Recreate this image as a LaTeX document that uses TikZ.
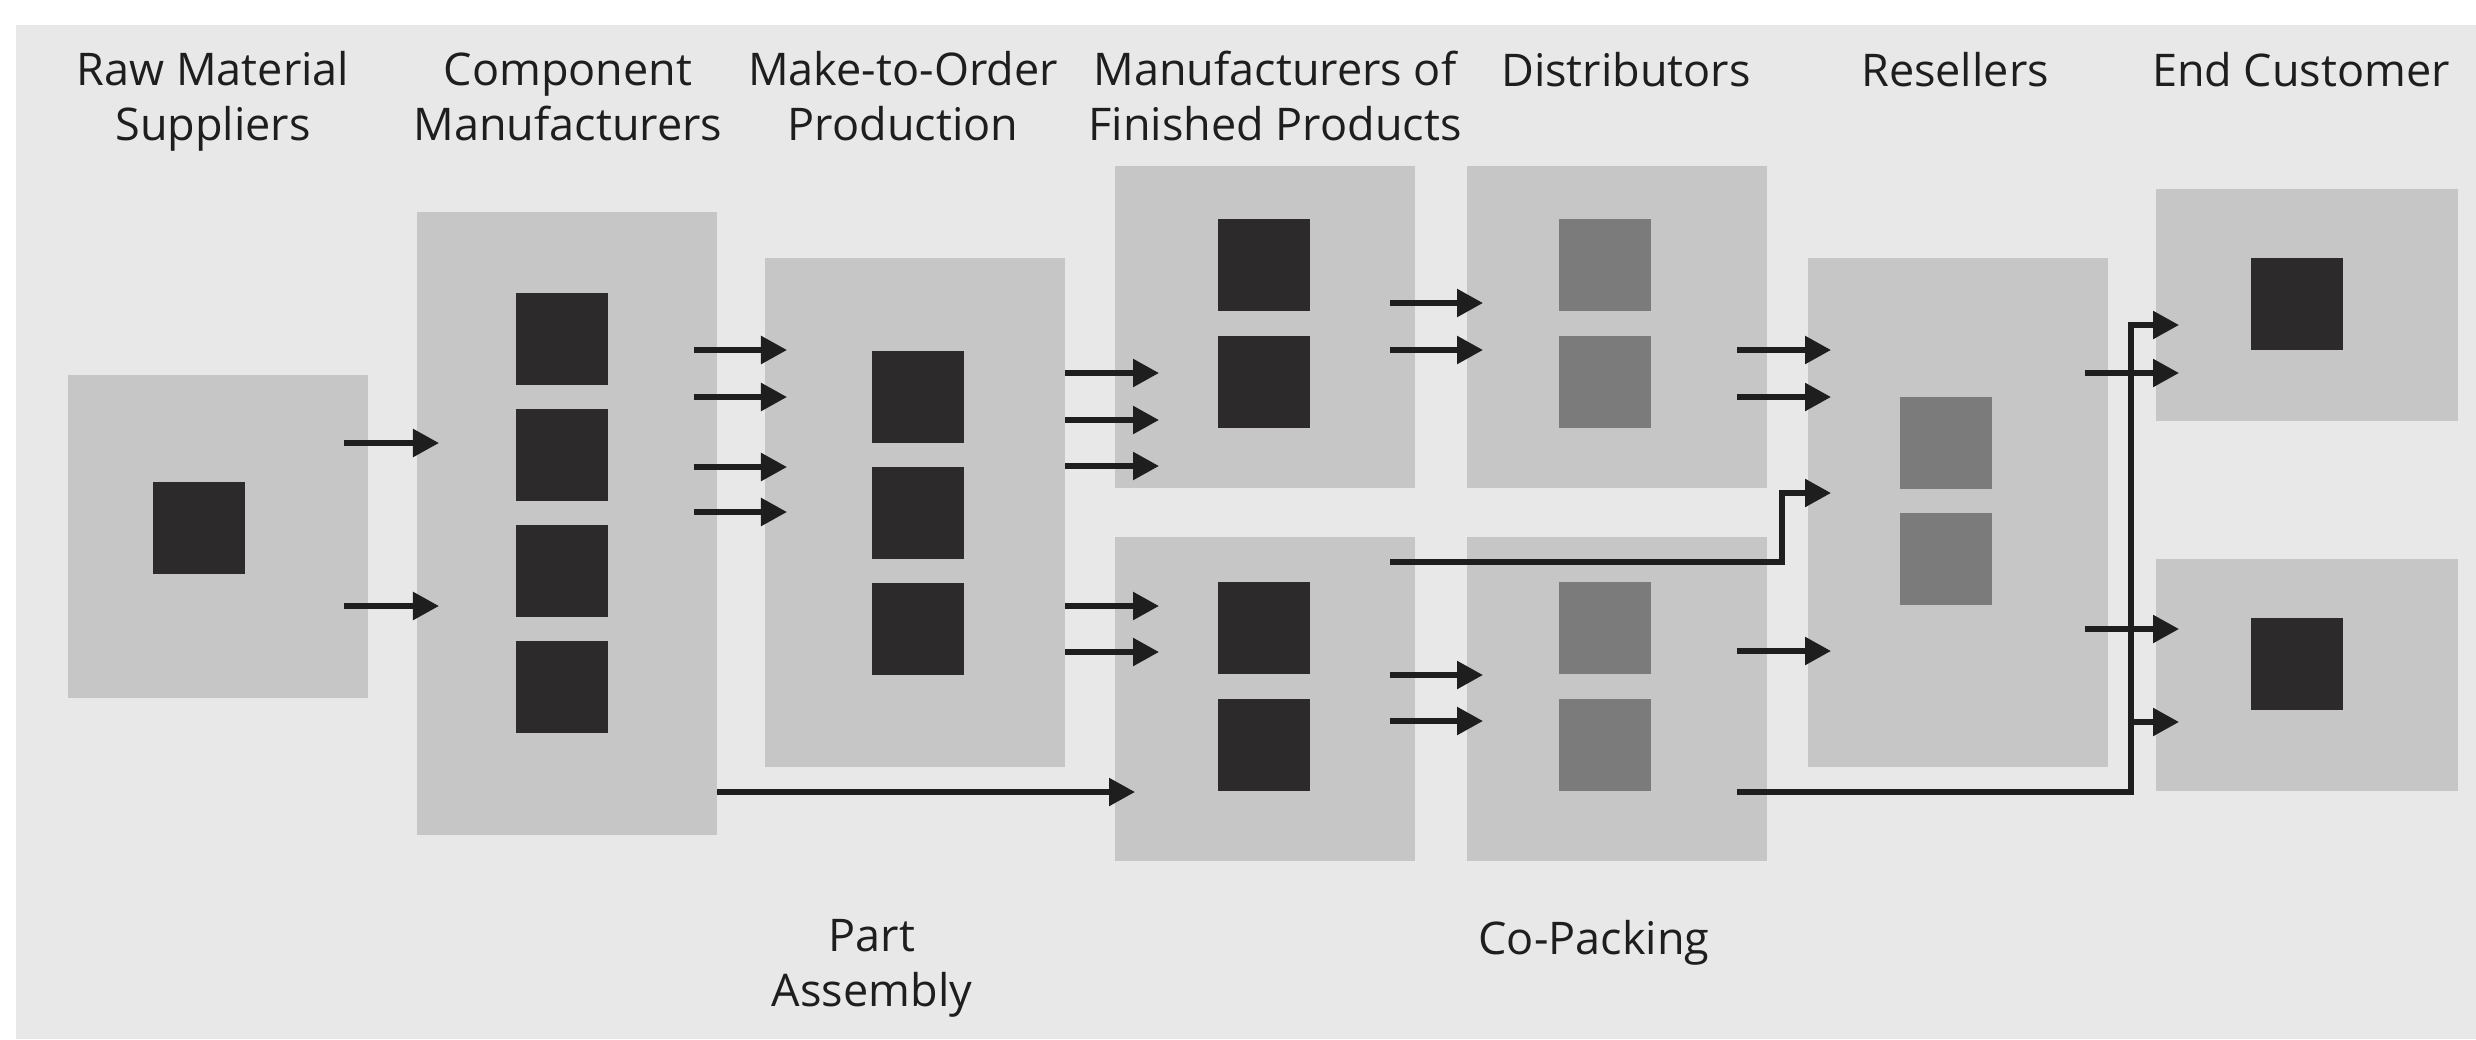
\documentclass[tikz,border=0pt]{standalone}
\usepackage{fontspec}
\setmainfont{Open Sans}
\usetikzlibrary{calc,arrows.meta}
\definecolor{bgc}{HTML}{E8E8E8}
\definecolor{boxc}{HTML}{C6C6C6}
\definecolor{darkc}{HTML}{2D2A2B}
\definecolor{midc}{HTML}{7B7B7B}
\definecolor{inkc}{HTML}{1E1E1E}
\newcommand\flowarr[5]{\draw[arr] ($(#1.east |- 0,#3)+(#4,0)$) -- ($(#2.west |- 0,#3)+(#5,0)$);}
\begin{document}
\begin{tikzpicture}[x=0.01cm,y=-0.01cm,
  stage/.style={fill=boxc, draw=none, minimum width=3cm, anchor=north west, inner sep=0, outer sep=0},
  blk/.style={fill=darkc, draw=none, minimum width=0.92cm, minimum height=0.92cm, anchor=north west, inner sep=0, outer sep=0},
  gblk/.style={blk, fill=midc},
  arr/.style={draw=inkc, line width=0.055cm, -{Triangle[length=0.26cm,width=0.27cm]}},
  lbl/.style={font=\fontsize{12.8}{15.4}\selectfont, text=inkc, align=center, anchor=base, inner sep=0}]
\useasboundingbox (0,0) rectangle (2476,1039);
\fill[white] (0,0) rectangle (2476,1039);
\fill[bgc] (16,25) rectangle (2476,1039);
% stage boxes
\node[stage, minimum height=3.23cm] (raw) at (68,375) {};
\node[stage, minimum height=6.23cm] (comp) at (417,212) {};
\node[stage, minimum height=5.09cm] (mto) at (765,258) {};
\node[stage, minimum height=3.22cm] (mfpt) at (1115,166) {};
\node[stage, minimum height=3.24cm] (mfpb) at (1115,537) {};
\node[stage, minimum height=3.22cm] (dist) at (1467,166) {};
\node[stage, minimum height=3.24cm] (copk) at (1467,537) {};
\node[stage, minimum height=5.09cm] (res) at (1808,258) {};
\node[stage, minimum height=2.32cm, minimum width=3.02cm] (endt) at (2156,189) {};
\node[stage, minimum height=2.32cm, minimum width=3.02cm] (endb) at (2156,559) {};
% squares
\node[blk] (raw1) at (153,482) {};
\node[blk] (comp1) at (516,293) {};
\node[blk] (comp2) at (516,409) {};
\node[blk] (comp3) at (516,525) {};
\node[blk] (comp4) at (516,641) {};
\node[blk] (mto1) at (872,351) {};
\node[blk] (mto2) at (872,467) {};
\node[blk] (mto3) at (872,583) {};
\node[blk] (mfpt1) at (1218,219) {};
\node[blk] (mfpt2) at (1218,336) {};
\node[blk] (mfpb1) at (1218,582) {};
\node[blk] (mfpb2) at (1218,699) {};
\node[gblk] (dist1) at (1559,219) {};
\node[gblk] (dist2) at (1559,336) {};
\node[gblk] (copk1) at (1559,582) {};
\node[gblk] (copk2) at (1559,699) {};
\node[gblk] (res1) at (1900,397) {};
\node[gblk] (res2) at (1900,513) {};
\node[blk] (endt1) at (2251,258) {};
\node[blk] (endb1) at (2251,618) {};
% arrows
\flowarr{raw}{comp}{443}{-24}{22}
\flowarr{raw}{comp}{606}{-24}{22}
\flowarr{comp}{mto}{350}{-23}{22}
\flowarr{comp}{mto}{397}{-23}{22}
\flowarr{comp}{mto}{467}{-23}{22}
\flowarr{comp}{mto}{512}{-23}{22}
\flowarr{mto}{mfpt}{373}{0}{44}
\flowarr{mto}{mfpt}{420}{0}{44}
\flowarr{mto}{mfpt}{466}{0}{44}
\flowarr{mto}{mfpb}{606}{0}{44}
\flowarr{mto}{mfpb}{652}{0}{44}
\flowarr{comp}{mfpb}{792}{0}{20}
\flowarr{mfpt}{dist}{303}{-25}{16}
\flowarr{mfpt}{dist}{350}{-25}{16}
\flowarr{mfpb}{copk}{675}{-25}{16}
\flowarr{mfpb}{copk}{721}{-25}{16}
\flowarr{dist}{res}{350}{-30}{23}
\flowarr{dist}{res}{397}{-30}{23}
\flowarr{copk}{res}{651}{-30}{23}
\flowarr{res}{endt}{373}{-23}{23}
\flowarr{res}{endb}{629}{-23}{23}
\coordinate (k1) at ($(res.west |- 0,562)+(-26,0)$);
\draw[arr] ($(mfpb.east |- 0,562)+(-25,0)$) -- (k1) |- ($(res.west |- 0,493)+(23,0)$);
\coordinate (k2) at ($(endt.west |- 0,792)+(-25,0)$);
\coordinate (k3) at ($(endb.west |- 0,722)+(-25,0)$);
\draw[arr] ($(copk.east |- 0,792)+(-30,0)$) -- (k2) |- ($(endt.west |- 0,325)+(23,0)$);
\draw[arr] (k3) -- ($(endb.west |- 0,722)+(23,0)$);
% labels
\node[lbl] (lraw) at (213,140) {Raw Material\\Suppliers};
\node[lbl] (lcomp) at (568,140) {Component\\Manufacturers};
\node[lbl] (lmto) at (903,140) {Make-to-Order\\Production};
\node[lbl] (lmfp) at (1275,140) {Manufacturers of\\Finished Products};
\node[lbl] (ldist) at (1626,86) {Distributors};
\node[lbl] (lres) at (1955,86) {Resellers};
\node[lbl] (lend) at (2301,86) {End Customer};
\node[lbl] (lpart) at (872,1006) {Part\\Assembly};
\node[lbl] (lcopk) at (1594,954) {Co-Packing};
\end{tikzpicture}
\end{document}
